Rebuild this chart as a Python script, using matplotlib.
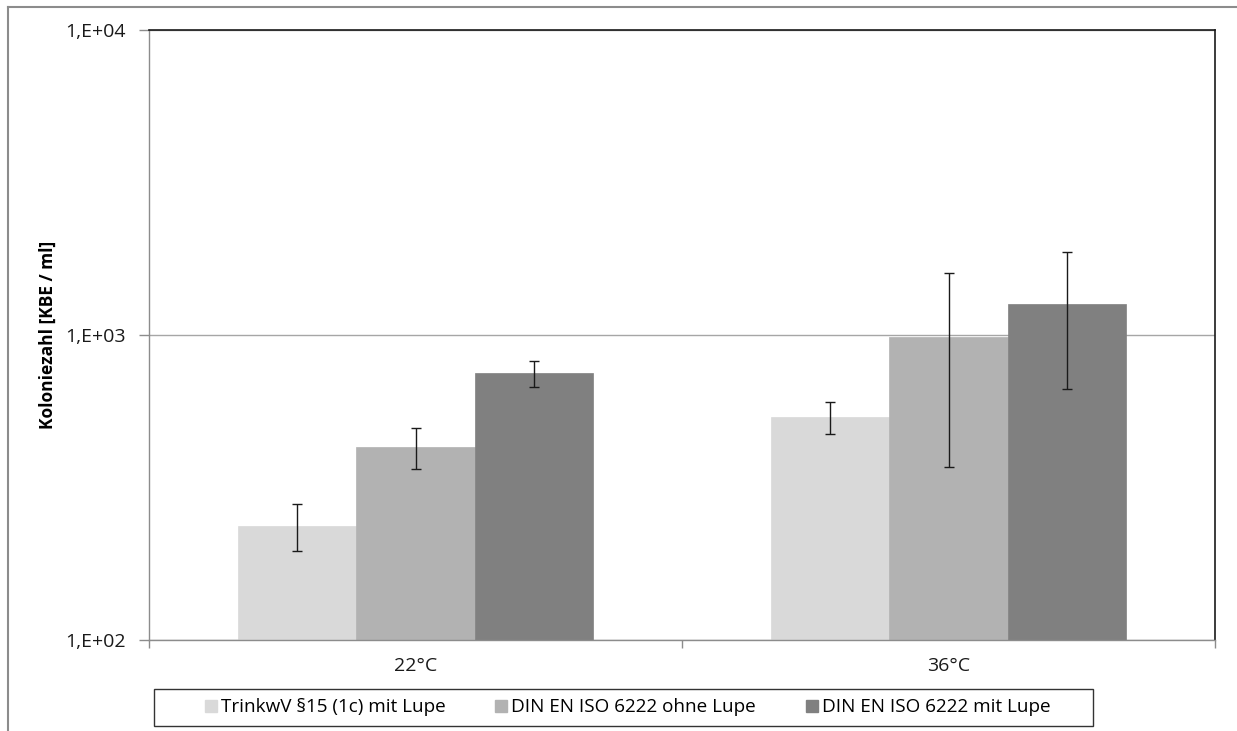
import matplotlib
matplotlib.use("Agg")
import matplotlib.pyplot as plt
from matplotlib.lines import Line2D
from matplotlib.patches import Patch, Rectangle
import numpy as np

plt.rcParams["font.family"] = ["Open Sans", "DejaVu Sans"]

categories = ["22°C", "36°C"]
series_names = [
    "TrinkwV §15 (1c) mit Lupe",
    "DIN EN ISO 6222 ohne Lupe",
    "DIN EN ISO 6222 mit Lupe",
]
values = [
    [236, 540],
    [430, 983],
    [750, 1265],
]
err_low = [
    [196, 474],
    [364, 369],
    [676, 664],
]
err_high = [
    [279, 604],
    [496, 1600],
    [822, 1875],
]
colors = ["#D9D9D9", "#B2B2B2", "#808080"]
y_label = "Koloniezahl [KBE / ml]"

W, H = 1237, 731
fig = plt.figure(figsize=(W / 100, H / 100), dpi=100)
ax = fig.add_axes([149 / W, 1 - 640 / H, (1215 - 149) / W, (640 - 30) / H])

x = np.arange(len(categories))
width = 0.222
for i, name in enumerate(series_names):
    pos = x + (i - 1) * width
    vals = np.array(values[i], dtype=float)
    lo = vals - np.array(err_low[i])
    hi = np.array(err_high[i]) - vals
    ax.bar(pos, vals, width=width, color=colors[i], edgecolor=colors[i],
           linewidth=0.5, label=name, zorder=2)
    ax.errorbar(pos, vals, yerr=[lo, hi], fmt="none", ecolor="#1a1a1a",
                elinewidth=1.0, capsize=3.4, capthick=1.0, zorder=3)

ax.set_yscale("log")
ax.set_ylim(100, 10000)
ax.set_xlim(-0.5, len(categories) - 0.5)

ax.set_yticks([100, 1000, 10000])
ax.set_yticklabels([f"1,E+{int(round(np.log10(v))):02d}" for v in [100, 1000, 10000]])
ax.yaxis.set_minor_locator(matplotlib.ticker.NullLocator())
ax.grid(axis="y", which="major", color="#A6A6A6", linewidth=1.0, zorder=0)

ax.set_xticks(np.arange(-0.5, len(categories), 1.0))
ax.set_xticklabels([])
ax.set_xticks(x, minor=True)
ax.set_xticklabels(categories, minor=True)

ax.tick_params(axis="y", which="major", length=7, width=1, color="#8c8c8c",
               labelsize=14, pad=10, labelcolor="#1a1a1a")
ax.tick_params(axis="x", which="major", length=6, width=1, color="#8c8c8c")
ax.tick_params(axis="x", which="minor", length=0, labelsize=14, pad=12,
               labelcolor="#1a1a1a")

for side in ["left", "bottom"]:
    ax.spines[side].set_color("#8c8c8c")
    ax.spines[side].set_linewidth(1.0)
for side in ["top", "right"]:
    ax.spines[side].set_color("#1a1a1a")
    ax.spines[side].set_linewidth(1.2)

ax.set_ylabel(y_label, fontsize=12.5, fontweight="bold")
ax.yaxis.set_label_coords((57 - 149) / (1215 - 149), 0.5)

# legend: frameless entries plus a separate box like the spreadsheet legend
handles = [Patch(facecolor=c, edgecolor=c) for c in colors]
leg = fig.legend(handles, series_names, loc="center",
                 bbox_to_anchor=(627.5 / W, 1 - 707.5 / H),
                 ncol=3, frameon=False, fontsize=13.6,
                 handlelength=0.64, handleheight=0.64,
                 handletextpad=0.22, columnspacing=2.62, borderpad=0.0)
fig.add_artist(Rectangle((154 / W, 1 - 726 / H), (1093 - 154) / W, (726 - 689) / H,
                         transform=fig.transFigure, facecolor="none",
                         edgecolor="#333333", linewidth=1.0))

# outer chart border (top and left edges visible)
fig.add_artist(Line2D([8 / W, 8 / W], [0, 1 - 7 / H], color="#8c8c8c",
                      linewidth=1.5, transform=fig.transFigure))
fig.add_artist(Line2D([8 / W, 1], [1 - 7 / H, 1 - 7 / H], color="#8c8c8c",
                      linewidth=1.5, transform=fig.transFigure))

fig.savefig("out.png", dpi=100)
